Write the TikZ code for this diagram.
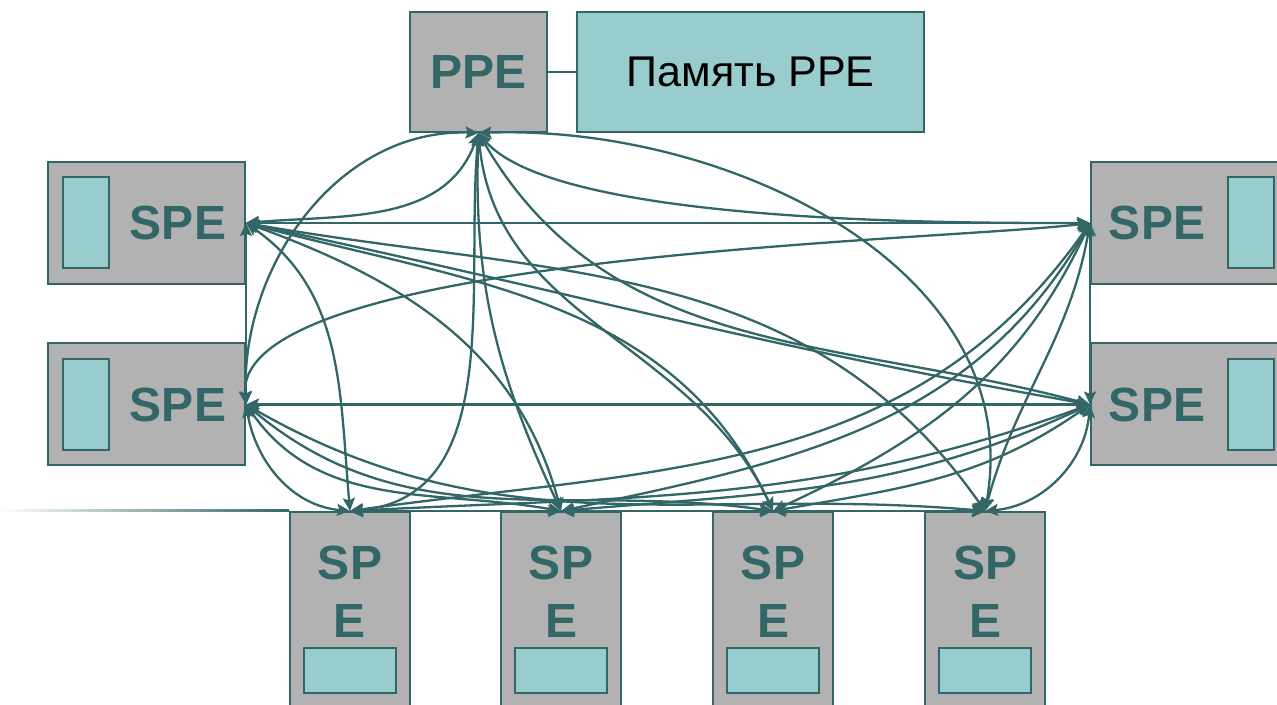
\documentclass[tikz,border=0pt]{standalone}
\usepackage{fontspec}
\setmainfont{Liberation Sans}
\usetikzlibrary{arrows.meta,positioning}
\definecolor{edge}{HTML}{336666}
\definecolor{boxgray}{HTML}{B2B2B2}
\definecolor{cellfill}{HTML}{99CCCC}

\begin{document}
\begin{tikzpicture}[x=0.5pt,y=0.5pt,
>={Stealth[length=6.5pt,width=6pt,inset=1.2pt]},
unit/.style={draw=edge, fill=boxgray, line width=1pt, inner sep=0pt},
cell/.style={draw=edge, fill=cellfill, line width=1pt, inner sep=0pt},
lbl/.style={text=edge, font=\bfseries\fontsize{24}{29}\selectfont, inner sep=0pt},
link/.style={draw=edge, line width=1.15pt, <->}]
\useasboundingbox (0,0) rectangle (1277,705);
% PPE and its memory
\node[unit, lbl, minimum width=68.5pt, minimum height=60pt] (ppe) at (478.5,633) {PPE};
\node[cell, minimum width=173.5pt, minimum height=60pt,
  font=\fontsize{21.5}{25}\selectfont] (mem) at (750.5,633) {Память PPE};
\draw[edge, line width=1pt] (ppe) -- (mem);
% side SPEs
\node[unit, minimum width=98.5pt, minimum height=61pt] (spel1) at (146.5,482) {};
\node[cell, minimum width=23pt, minimum height=45.5pt, right=7.5pt of spel1.west] (celll1) {};
\node[lbl] (txtl1) at ([xshift=15.75pt]spel1.center) {SPE};
\node[unit, minimum width=98.5pt, minimum height=61pt] (spel2) at (146.5,300.5) {};
\node[cell, minimum width=23pt, minimum height=45.5pt, right=7.5pt of spel2.west] (celll2) {};
\node[lbl] (txtl2) at ([xshift=15.75pt]spel2.center) {SPE};
\node[unit, minimum width=98.5pt, minimum height=61pt] (sper1) at (1189.5,482) {};
\node[cell, minimum width=23pt, minimum height=45.5pt, left=7pt of sper1.east] (cellr1) {};
\node[lbl] (txtr1) at ([xshift=-16.25pt]sper1.center) {SPE};
\node[unit, minimum width=98.5pt, minimum height=61pt] (sper2) at (1189.5,300.5) {};
\node[cell, minimum width=23pt, minimum height=45.5pt, left=7pt of sper2.east] (cellr2) {};
\node[lbl] (txtr2) at ([xshift=-16.25pt]sper2.center) {SPE};
% bottom row
\foreach \i/\x in {1/350,2/561,3/773,4/985} {
  \node[unit, minimum width=60pt, minimum height=102pt, anchor=north] (speb\i) at (\x,194) {};
  \node[lbl, align=center] (txtb\i) at (\x,113) {SP\\E};
  \node[cell, minimum width=46pt, minimum height=22.5pt, below=68pt of speb\i.north] (cellb\i) {};
}
\coordinate (busend) at (0,194);
\shade[left color=white, right color=edge] ([yshift=-0.5pt]busend) rectangle ([yshift=0.5pt]speb1.north west);
\foreach \a/\b in {1/2,1/3,1/4,2/3,2/4,3/4}
  \draw[link] (speb\a.north) -- (speb\b.north);
% straight links
\draw[link] (spel1.east) -- (sper1.west);
\draw[link] (spel2.east) -- (sper2.west);
\draw[link] (spel1.east) -- (spel2.east);
\draw[link] (sper1.west) -- (sper2.west);
% PPE to everything
\draw[link] (ppe.south) to[out=250,in=5] (spel1.east);
\draw[link] (ppe.south) to[out=178,in=92] (spel2.east);
\draw[link] (ppe.south) to[out=-50,in=180,looseness=0.5] (sper1.west);
\draw[link] (ppe.south) to[out=300,in=165] (sper2.west);
\draw[link] (ppe.south) to[out=265,in=5] (speb1.north);
\draw[link] (ppe.south) to[out=268,in=115] (speb2.north);
\draw[link] (ppe.south) to[out=275,in=115] (speb3.north);
\draw[link] (ppe.south) to[out=2,in=80] (speb4.north);
% left SPE 1
\draw[link] (spel1.east) to[out=-12,in=170] (sper2.west);
\draw[link] (spel1.east) to[out=-35,in=95] (speb1.north);
\draw[link] (spel1.east) to[out=-20,in=105] (speb2.north);
\draw[link] (spel1.east) to[out=-15,in=115] (speb3.north);
\draw[link] (spel1.east) to[out=-10,in=125] (speb4.north);
% left SPE 2
\draw[link] (spel2.east) to[out=95,in=187,looseness=0.45] (sper1.west);
\draw[link] (spel2.east) to[out=-80,in=175] (speb1.north);
\draw[link] (spel2.east) to[out=-55,in=170] (speb2.north);
\draw[link] (spel2.east) to[out=-40,in=172] (speb3.north);
\draw[link] (spel2.east) to[out=-30,in=175] (speb4.north);
% right SPE 1
\draw[link] (sper1.west) to[out=235,in=8] (speb1.north);
\draw[link] (sper1.west) to[out=240,in=12] (speb2.north);
\draw[link] (sper1.west) to[out=245,in=25] (speb3.north);
\draw[link] (sper1.west) to[out=260,in=75] (speb4.north);
% right SPE 2
\draw[link] (sper2.west) to[out=200,in=3] (speb1.north);
\draw[link] (sper2.west) to[out=205,in=5] (speb2.north);
\draw[link] (sper2.west) to[out=215,in=10] (speb3.north);
\draw[link] (sper2.west) to[out=265,in=5] (speb4.north);
\end{tikzpicture}
\end{document}
